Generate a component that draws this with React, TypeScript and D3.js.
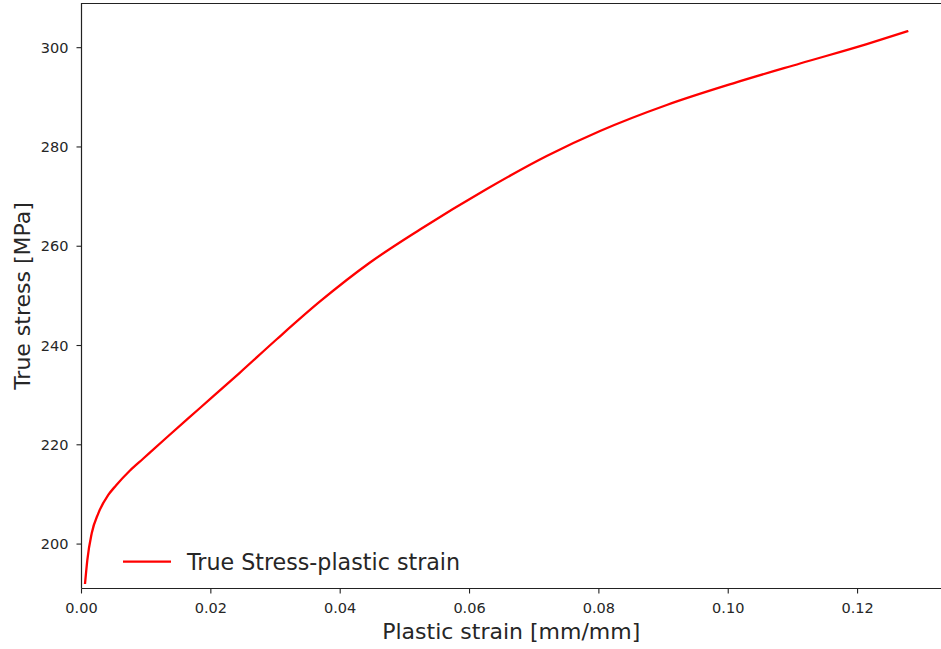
import React from "react";
import * as d3 from "d3";

const strain = [
  0.00054, 0.0009, 0.00158, 0.0026, 0.00414, 0.00533, 0.0075, 0.00956,
  0.01317, 0.01832, 0.02451, 0.03023, 0.03688, 0.04461, 0.05234, 0.06266,
  0.07193, 0.08018, 0.09049, 0.10079, 0.1111, 0.12142, 0.12785,
];
const stress = [
  191.96, 196.79, 202.17, 206.2, 209.89, 211.8, 214.82, 217.24, 221.47,
  227.41, 234.56, 241.31, 248.87, 256.72, 263.37, 271.53, 278.18, 283.21,
  288.45, 292.82, 296.81, 300.72, 303.36,
];
const xTicks = [0, 0.02, 0.04, 0.06, 0.08, 0.1, 0.12];
const xTickLabels = ["0.00", "0.02", "0.04", "0.06", "0.08", "0.10", "0.12"];
const yTicks = [200, 220, 240, 260, 280, 300];
const yTickLabels = ["200", "220", "240", "260", "280", "300"];
const seriesName = "True Stress-plastic strain";
const xLabel = "Plastic strain [mm/mm]";
const yLabel = "True stress [MPa]";

const W = 941;
const H = 649;
const L = 81.5;
const R = 941;
const T = 3.5;
const B = 588.5;

export default function App() {
  const x = d3.scaleLinear().domain([0, 0.1329]).range([L, R]);
  const y = d3.scaleLinear().domain([191.05, 308.9]).range([B, T]);
  const pts = strain.map((s, i) => [s, stress[i]] as [number, number]);
  const line = d3
    .line<[number, number]>()
    .x((d) => x(d[0]))
    .y((d) => y(d[1]))
    .curve(d3.curveMonotoneX);
  const font = "DejaVu Sans";
  const txt = "#262626";
  return (
    <svg
      width={W}
      height={H}
      style={{ position: "absolute", left: 0, top: 0, background: "#fff" }}
      fontFamily={font}
    >
      <rect x={0} y={0} width={W} height={H} fill="#fff" />
      <path d={line(pts) || ""} fill="none" stroke="#ff0000" strokeWidth={2.3} strokeLinejoin="round" strokeLinecap="butt" />
      <path d={`M${L},${B}V${T}H${R}`} fill="none" stroke="#222" strokeWidth={1.2} />
      <path d={`M${L},${B}H${R}`} fill="none" stroke="#222" strokeWidth={1.2} />
      {xTicks.map((t, i) => (
        <g key={"x" + i}>
          <line x1={x(t)} x2={x(t)} y1={B} y2={B + 5} stroke="#222" strokeWidth={1.1} />
          <text x={x(t)} y={613} textAnchor="middle" fontSize={14.5} fill={txt}>
            {xTickLabels[i]}
          </text>
        </g>
      ))}
      {yTicks.map((t, i) => (
        <g key={"y" + i}>
          <line x1={L - 5} x2={L} y1={y(t)} y2={y(t)} stroke="#222" strokeWidth={1.1} />
          <text x={68.5} y={y(t)} dy="0.36em" textAnchor="end" fontSize={14.5} fill={txt}>
            {yTickLabels[i]}
          </text>
        </g>
      ))}
      <text x={(L + R) / 2} y={639} textAnchor="middle" fontSize={22} fill={txt}>
        {xLabel}
      </text>
      <text
        transform={`translate(29.5,${(T + B) / 2}) rotate(-90)`}
        textAnchor="middle"
        fontSize={22}
        fill={txt}
      >
        {yLabel}
      </text>
      <line x1={123} x2={171} y1={561.7} y2={561.7} stroke="#ff0000" strokeWidth={2.3} />
      <text x={187} y={569.5} fontSize={22.2} fill={txt}>
        {seriesName}
      </text>
    </svg>
  );
}
